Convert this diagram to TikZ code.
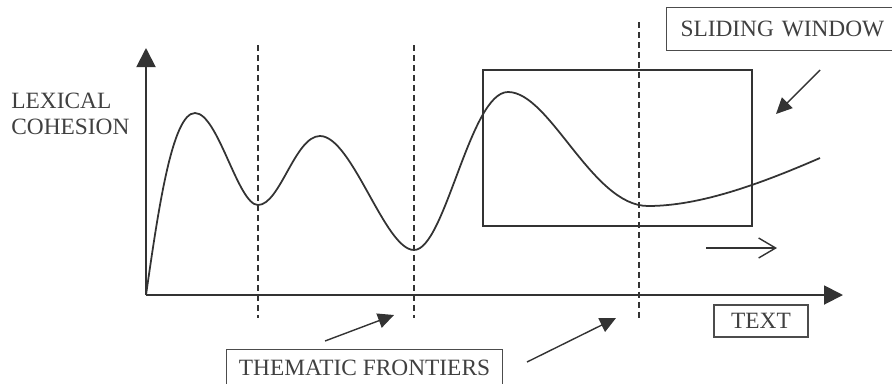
\documentclass[tikz,border=0pt]{standalone}
\usepackage{fontspec}
\setmainfont{Liberation Serif}
\usetikzlibrary{arrows.meta, positioning, calc}

\begin{document}
\begin{tikzpicture}[
        x=0.02cm, y=-0.02cm,
        ink/.style={draw=black!80},
        label/.style={
            text=black!75,
            font=\fontsize{13.3}{14.8}\selectfont,
            inner sep=0pt
        },
        labelbox/.style={
            rectangle,
            draw=black!70,
            text=black!75,
            font=\fontsize{13.3}{14.8}\selectfont,
            line width=0.6pt
        },
        axis/.style={ink, line width=1.1pt, -{Triangle[length=0.38cm, width=0.38cm]}},
        frontier/.style={ink, line width=0.6pt, dash pattern=on 0.12cm off 0.08cm},
        pointer/.style={ink, line width=0.8pt, -{Triangle[length=0.32cm, width=0.30cm]}},
        slidearrow/.style={ink, line width=0.8pt, -{Straight Barb[length=0.34cm, width=0.40cm]}}
    ]
    \clip (0,0) rectangle (892,383);

    % axes
    \coordinate (origin) at (146,295);
    \coordinate (ytop) at (146,48);
    \coordinate (xend) at (843,295);
    \draw[axis] (origin) -- (ytop);
    \draw[axis] (origin) -- (xend);

    \node[label, anchor=north west, align=left] (cohesion) at (11,93) {LEXICAL\\COHESION};

    % thematic frontiers
    \coordinate (f1top) at (258,45);  \coordinate (f1bot) at (258,318);
    \coordinate (f2top) at (414,45);  \coordinate (f2bot) at (414,318);
    \coordinate (f3top) at (639,22);  \coordinate (f3bot) at (639,318);
    \draw[frontier] (f1top) -- (f1bot);
    \draw[frontier] (f2top) -- (f2bot);
    \draw[frontier] (f3top) -- (f3bot);

    % cohesion curve
    \draw[ink, line width=1pt] (origin)
        .. controls (158,212) and (172,113) .. (195,113)
        .. controls (218,113) and (238,205) .. (258,205)
        .. controls (280,205) and (295,136) .. (320,136)
        .. controls (352,136) and (385,250) .. (414,250)
        .. controls (445,250) and (470,92) .. (508,92)
        .. controls (550,92) and (592,206) .. (648,206)
        .. controls (700,206) and (760,184) .. (820,158);

    % sliding window
    \node[rectangle, ink, line width=0.8pt, minimum width=5.38cm, minimum height=3.12cm] (window) at (617.5,148) {};
    \node[labelbox, anchor=north west, text width=4.4cm, minimum height=0.86cm, inner xsep=0.28cm, align=left] (slidelbl) at (666,7) {SLIDING WINDOW};
    \coordinate (slidefrom) at (820,70);
    \coordinate (slideto) at (776,114);
    \draw[pointer] (slidefrom) -- (slideto);
    \coordinate (movefrom) at (706,248);
    \coordinate (moveto) at (777,248);
    \draw[slidearrow] (movefrom) -- (moveto);

    % labels below
    \node[labelbox, minimum width=1.88cm, minimum height=0.64cm, inner sep=0pt] (textlbl) at (761,321) {TEXT};
    \node[labelbox, anchor=north west, minimum width=5.52cm, minimum height=0.74cm, inner sep=0pt] (frontlbl) at (226,349) {THEMATIC FRONTIERS};
    \coordinate (fa1from) at (325,341);
    \coordinate (fa1to) at (394,315);
    \coordinate (fa2from) at (527,362);
    \coordinate (fa2to) at (616,318);
    \draw[pointer] (fa1from) -- (fa1to);
    \draw[pointer] (fa2from) -- (fa2to);
\end{tikzpicture}
\end{document}
